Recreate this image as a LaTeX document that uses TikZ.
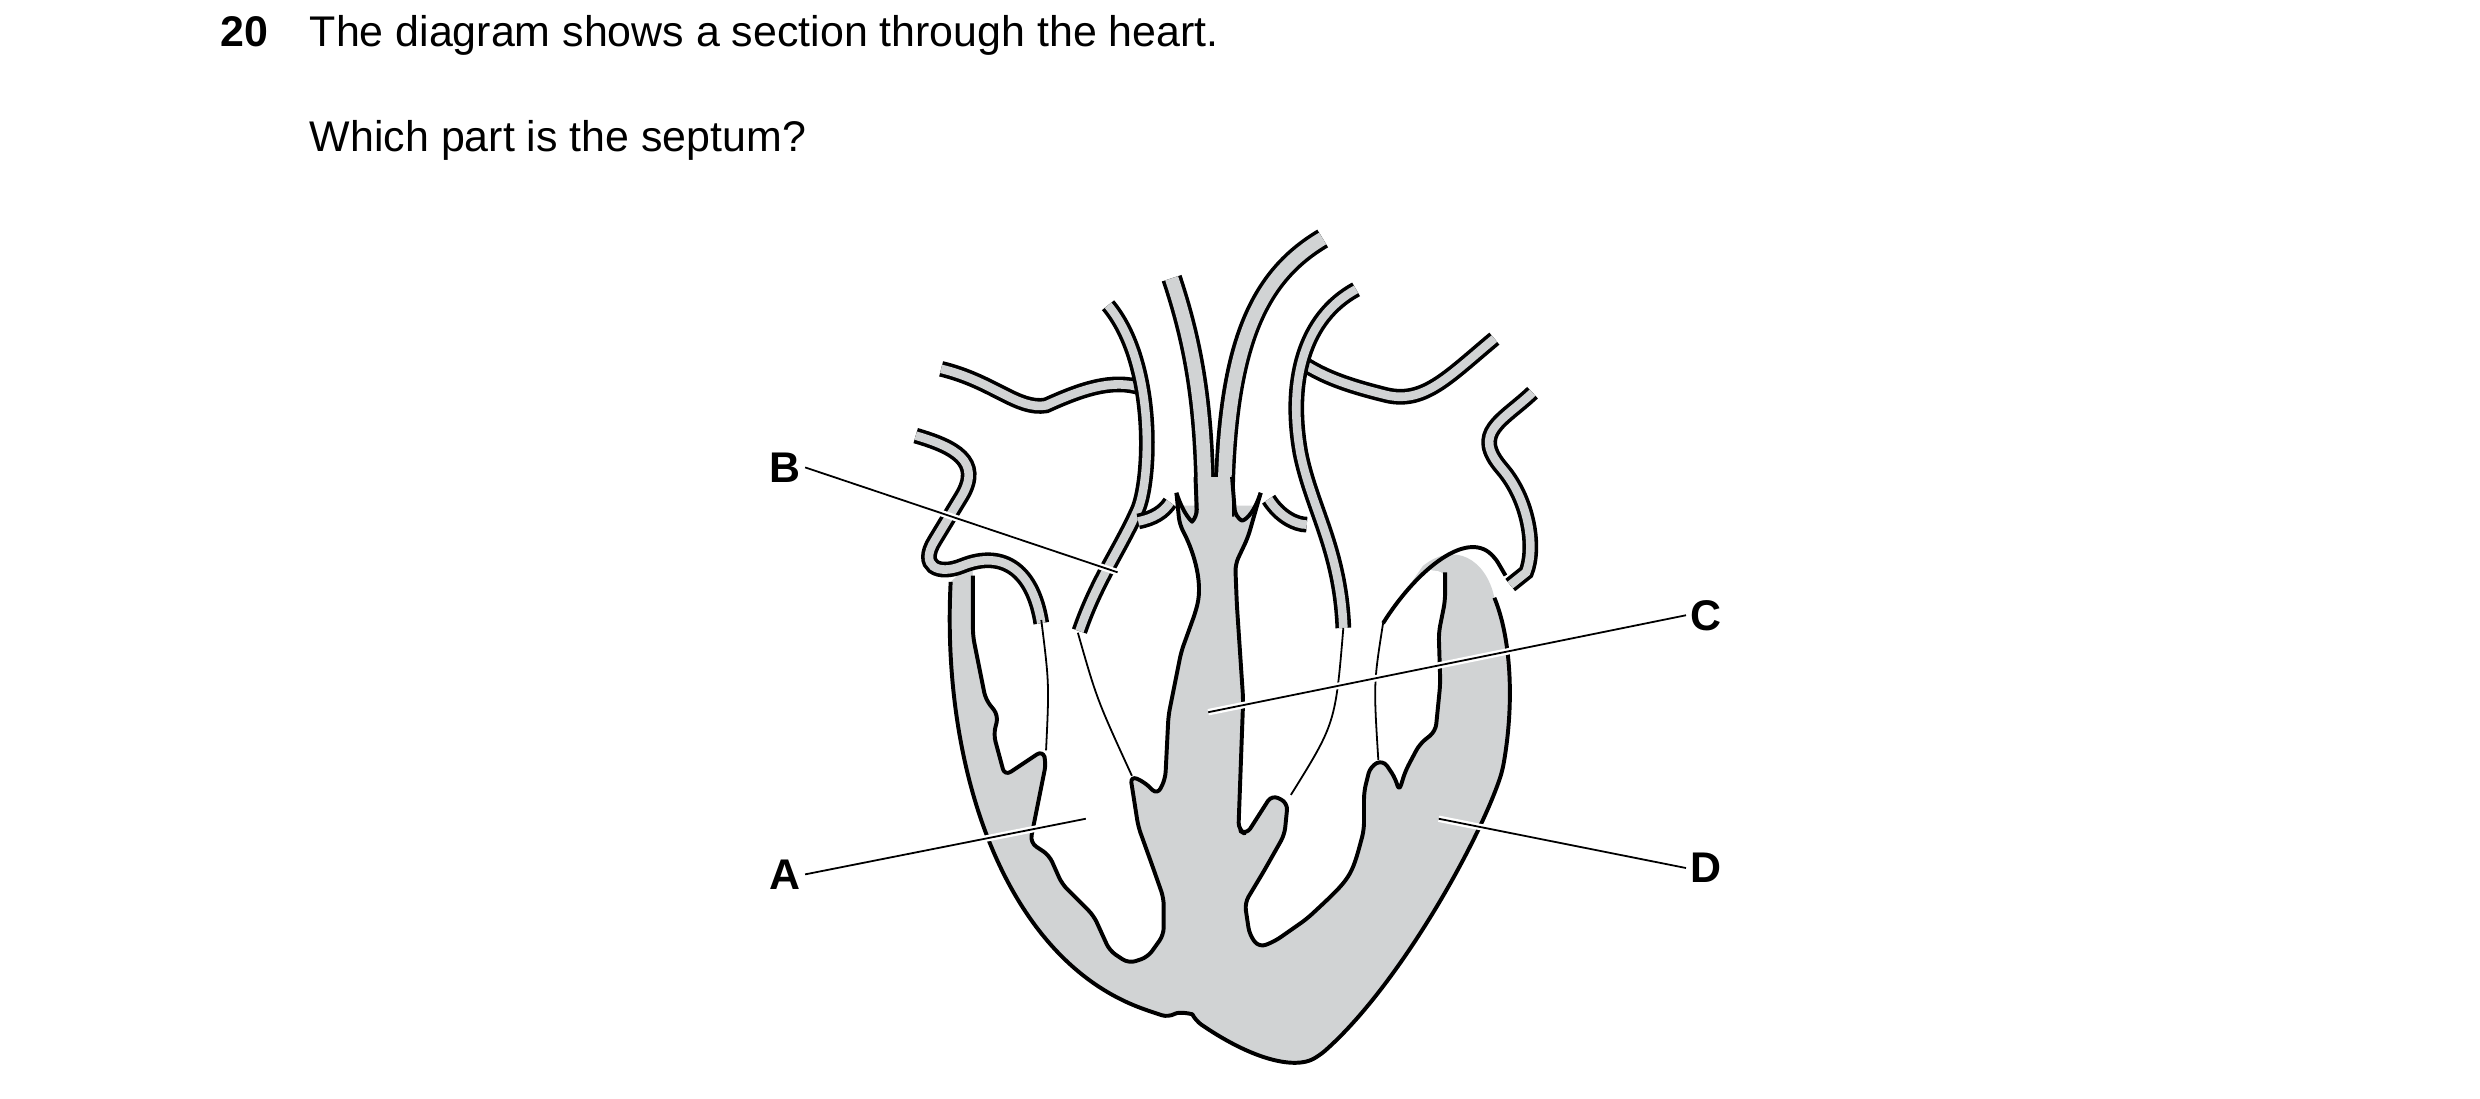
\documentclass[tikz,border=0pt]{standalone}
\usepackage{fontspec}
\setmainfont{Liberation Sans}
\definecolor{heartgrey}{HTML}{D1D3D4}
\tikzset{
  wall/.style={draw=black, line width=1.1pt, line join=round, rounded corners=2pt},
  leaflet/.style={draw=black, line width=0.5pt},
  vout/.style={draw=black, line width=4.4pt},
  vin/.style={draw=heartgrey, line width=2.4pt},
  pointer/.style={draw=black, line width=0.5pt, preaction={draw=white, line width=1.8pt}},
  lbl/.style={font=\bfseries\fontsize{12}{14}\selectfont, inner sep=1pt}
}
\newcommand{\heartvessel}[1]{\draw[vout] #1; \draw[vin] #1;}

\begin{document}
\begin{tikzpicture}[x=1cm/64, y=-1cm/64]
\useasboundingbox (0,0) rectangle (1560,691);

% Question text
\node[anchor=base west, font=\bfseries\fontsize{12}{14}\selectfont] (num) at (131,29) {20};
\node[anchor=base west, font=\fontsize{12}{14}\selectfont] (q1) at (187,29) {The diagram shows a section through the heart.};
\node[anchor=base west, font=\fontsize{12}{14}\selectfont] (q2) at (187,95) {Which part is the septum?};

% Heart body
\fill[heartgrey] (598,366) .. controls (592,480) and (630,600) .. (720,635) -- (735,640)
  .. controls (742,636) and (750,638) .. (752,642) .. controls (790,668) and (815,672) .. (830,664)
  .. controls (880,620) and (930,530) .. (945,485) .. controls (953,440) and (950,400) .. (940,376)
  .. controls (935,352) and (915,340) .. (895,356) -- (870,392) -- (845,380) -- (790,318)
  -- (740,318) -- (700,330) -- (660,372) -- (640,352) -- (615,350) -- cycle;

% Chambers (left and right)
\fill[white, rounded corners=2pt] (612,362) -- (612,400) -- (620,440) -- (628,450) -- (625,462) -- (632,488)
  -- (656,472) -- (658,480) -- (648,530) -- (660,538) -- (668,556) -- (688,576) -- (698,598)
  -- (710,606) -- (722,602) -- (732,588) -- (732,565) -- (725,545) -- (716,520) -- (711,488)
  -- (720,492) -- (728,500) -- (733,490) -- (735,450) -- (743,410) -- (752,385)
  .. controls (757,365) and (750,345) .. (742,330) -- (740,300) -- (612,300) -- cycle;
\fill[white, rounded corners=2pt] (793,312) -- (785,338) -- (777,355) -- (778,380) -- (782,440) -- (779,522)
  -- (784,525) -- (800,500) -- (810,505) -- (808,525) -- (795,548) -- (783,568) -- (786,588)
  -- (792,596) -- (802,592) -- (822,578) .. controls (850,552) .. (858,522) -- (858,498) -- (862,482)
  -- (870,478) -- (878,490) -- (880,498) -- (884,485) -- (893,468) -- (903,460) -- (906,430)
  -- (905,398) -- (909,378) -- (909,360) -- (896,358) -- (870,392) -- (860,300) -- (800,300) -- cycle;

% Wall outlines
\draw[wall] (598,366) .. controls (592,480) and (630,600) .. (720,635) -- (735,640)
  .. controls (742,636) and (750,638) .. (752,642) .. controls (790,668) and (815,672) .. (830,664)
  .. controls (880,620) and (930,530) .. (945,485) .. controls (953,440) and (950,400) .. (940,376);
\draw[wall] (612,362) -- (612,400) -- (620,440) -- (628,450) -- (625,462) -- (632,488)
  -- (656,472) -- (658,480) -- (648,530) -- (660,538) -- (668,556) -- (688,576) -- (698,598)
  -- (710,606) -- (722,602) -- (732,588) -- (732,565) -- (725,545) -- (716,520) -- (711,488)
  -- (720,492) -- (728,500) -- (733,490) -- (735,450) -- (743,410) -- (752,385)
  .. controls (757,365) and (750,345) .. (742,330) -- (740,310);
\draw[wall] (793,310) -- (785,338) -- (777,355) -- (778,380) -- (782,440) -- (779,522)
  -- (784,525) -- (800,500) -- (810,505) -- (808,525) -- (795,548) -- (783,568) -- (786,588)
  -- (792,596) -- (802,592) -- (822,578) .. controls (850,552) .. (858,522) -- (858,498) -- (862,482)
  -- (870,478) -- (878,490) -- (880,498) -- (884,485) -- (893,468) -- (903,460) -- (906,430)
  -- (905,398) -- (909,378) -- (909,360);
\draw[wall] (870,392) .. controls (890,360) and (920,335) .. (940,350) -- (947,362);

% Vessels
\heartvessel{(576,274) .. controls (600,281) and (618,290) .. (605,312) -- (588,340) .. controls (578,356) and (590,362) .. (605,356) .. controls (632,345) and (650,360) .. (655,392)}
\heartvessel{(964,247) .. controls (945,265) and (925,272) .. (945,295) .. controls (962,315) and (966,345) .. (960,360) -- (950,368)}
\heartvessel{(592,232) .. controls (625,240) and (640,258) .. (658,255) .. controls (680,245) and (700,238) .. (718,244)}
\heartvessel{(697,192) .. controls (727,228) and (724,300) .. (716,320) .. controls (705,345) and (690,365) .. (679,397)}
\heartvessel{(716,328) .. controls (726,326) and (732,322) .. (736,316)}
\heartvessel{(940,213) .. controls (910,238) and (895,255) .. (870,248) .. controls (850,243) and (835,238) .. (822,230)}
\heartvessel{(853,182) .. controls (820,200) and (810,240) .. (818,285) .. controls (825,320) and (843,345) .. (845,395)}
\heartvessel{(798,314) .. controls (805,325) and (815,330) .. (822,330)}
% central trunks
\draw[black, line width=5.8pt] (737,175) .. controls (752,220) and (758,260) .. (758,325);
\draw[black, line width=5.8pt] (832,150) .. controls (790,175) and (770,220) .. (770,325);
\draw[heartgrey, line width=3.8pt] (737,175) .. controls (752,220) and (758,260) .. (758,327);
\draw[heartgrey, line width=3.8pt] (832,150) .. controls (790,175) and (770,220) .. (770,327);
\fill[heartgrey] (753,300) rectangle (775,345);
\draw[wall] (740,310) .. controls (745,325) and (750,328) .. (753,325) -- (752,300);
\draw[wall] (793,310) .. controls (788,325) and (782,328) .. (777,325) -- (775,300);

% Valve leaflets
\draw[leaflet] (655,390) .. controls (660,430) .. (658,472);
\draw[leaflet] (678,398) .. controls (690,440) .. (712,488);
\draw[leaflet] (845,395) .. controls (840,455) .. (812,500);
\draw[leaflet] (870,392) .. controls (864,430) .. (867,478);

% Labels
\node[lbl] (lB) at (494,294) {B};
\node[lbl] (lC) at (1073,387) {C};
\node[lbl] (lA) at (494,550) {A};
\node[lbl] (lD) at (1073,546) {D};
\coordinate (pB) at (703,360);
\coordinate (pC) at (760,448);
\coordinate (pA) at (683,515);
\coordinate (pD) at (905,515);
\draw[pointer] (lB.east) -- (pB);
\draw[pointer] (lC.west) -- (pC);
\draw[pointer] (lA.east) -- (pA);
\draw[pointer] (lD.west) -- (pD);
\end{tikzpicture}
\end{document}
